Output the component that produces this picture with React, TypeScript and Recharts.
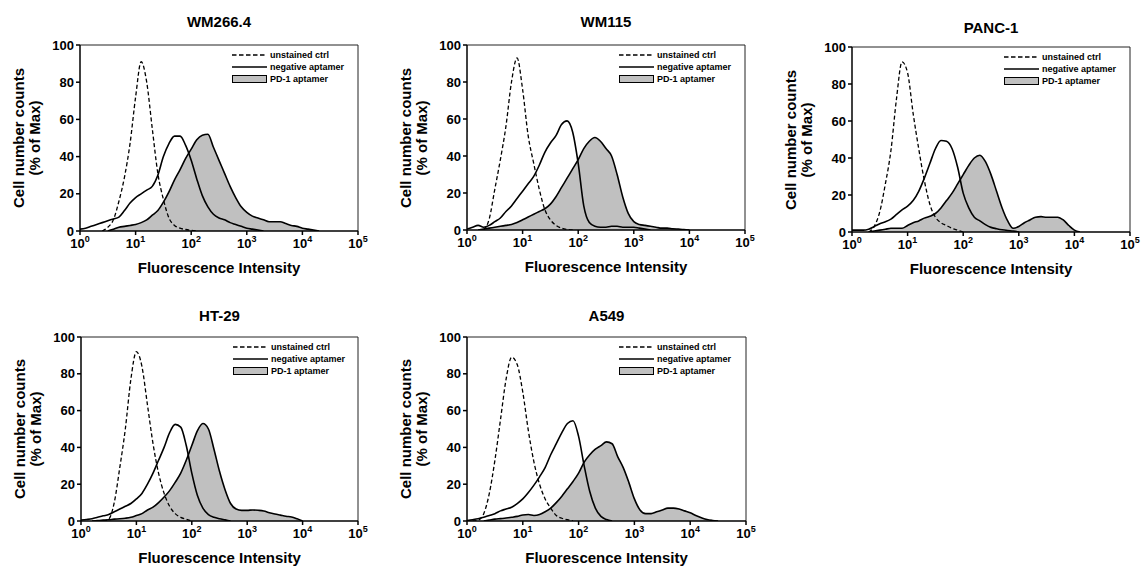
import React from "react";
import { ComposedChart, Area, Line, XAxis, YAxis, ReferenceLine } from "recharts";

// x grid: log10(fluorescence intensity), 10^0 .. 10^4.5
const logIntensity = [
  0, 0.1, 0.2, 0.3, 0.4, 0.5, 0.6, 0.7, 0.8, 0.9,
  1, 1.1, 1.2, 1.3, 1.4, 1.5, 1.6, 1.7, 1.8, 1.9,
  2, 2.1, 2.2, 2.3, 2.4, 2.5, 2.6, 2.7, 2.8, 2.9,
  3, 3.1, 3.2, 3.3, 3.4, 3.5, 3.6, 3.7, 3.8, 3.9,
  4, 4.1, 4.2, 4.3, 4.4, 4.5,
];
const xTicks = [0, 1, 2, 3, 4, 5];
const yTicks = [0, 20, 40, 60, 80, 100];
const seriesLabels = ["unstained ctrl", "negative aptamer", "PD-1 aptamer"];
const _ = null;

const wm266Unstained = [
  _, _, _, _, 0, 2, 6, 16, 29, 47,
  72, 91, 80, 55, 31, 17, 7, 3, 1.5, 0.8,
  0.3, 0, _, _, _, _, _, _, _, _,
  _, _, _, _, _, _, _, _, _, _,
  _, _, _, _, _, _,
];
const wm266Negative = [
  1, 1.5, 2.5, 3.5, 4.5, 5.5, 6.5, 7.5, 11, 15,
  18, 20, 22, 24, 30, 40, 47, 51, 51, 46,
  38, 28, 19, 13, 9, 7, 6, 4.5, 3.5, 2.5,
  1.5, 1, 0.5, 0, _, _, _, _, _, _,
  _, _, _, _, _, _,
];
const wm266Pd1 = [
  _, _, _, _, _, 0, 1, 2, 2.5, 3,
  3.5, 4.5, 6, 8.5, 11, 15.5, 21, 27.5, 33, 39,
  44, 49, 51.5, 52, 45, 38, 31, 24, 18, 13,
  10, 8, 7, 6, 5, 5, 5, 4, 3, 2.5,
  1.5, 1, 0.5, 0, _, _,
];

const wm115Unstained = [
  _, _, _, 0, 6, 22, 38, 56, 80, 93,
  76, 51, 36, 22, 11, 5.5, 2.5, 1, 0.3, 0,
  _, _, _, _, _, _, _, _, _, _,
  _, _, _, _, _, _, _, _, _, _,
  _, _, _, _, _, _,
];
const wm115Negative = [
  0.5, 1.5, 2.5, 1.5, 2.5, 4.5, 6.5, 10, 13, 17,
  21, 25, 29, 35, 42, 47, 51, 57, 59, 53,
  36, 13, 4, 2, 1.5, 1.5, 2, 2, 1.5, 1.5,
  1.5, 1, 0.5, 0, _, _, _, _, _, _,
  _, _, _, _, _, _,
];
const wm115Pd1 = [
  _, _, 0, 0.5, 1, 1.5, 2, 2.5, 3, 4,
  5.5, 7, 8.5, 10, 11.5, 14, 18, 23, 28, 33,
  38, 44, 48, 50, 48, 44, 40, 30, 18, 9,
  4.5, 3, 2.5, 2, 1.5, 1, 1, 0.7, 0.5, 0.3,
  0, _, _, _, _, _,
];

const panc1Unstained = [
  _, _, _, 0, 3, 11, 26, 44, 72, 92,
  86, 64, 45, 28, 15, 8, 5, 3.5, 2, 1,
  0, _, _, _, _, _, _, _, _, _,
  _, _, _, _, _, _, _, _, _, _,
  _, _, _, _, _, _,
];
const panc1Negative = [
  1, 1, 1, 1.5, 3, 4.5, 5.5, 7, 9.5, 12,
  14, 17, 22, 29, 37, 45, 49.5, 49, 45, 35,
  21, 13, 8, 6, 4, 2.5, 1.8, 1.2, 0.8, 0.5,
  0, _, _, _, _, _, _, _, _, _,
  _, _, _, _, _, _,
];
const panc1Pd1 = [
  _, _, _, 0, 0.5, 1, 1.5, 2, 2, 2,
  3.5, 5, 6, 7.5, 8.5, 10, 13, 17, 21, 26,
  31, 36, 40, 41.5, 38, 31, 22, 13, 6, 2,
  3, 5, 6.5, 8, 8.3, 8, 8, 8, 6.5, 3.5,
  1, 0, _, _, _, _,
];

const ht29Unstained = [
  _, _, _, _, 0, 1, 10, 29, 50, 77,
  92, 84, 63, 42, 26, 15, 8, 4, 2, 1,
  0, _, _, _, _, _, _, _, _, _,
  _, _, _, _, _, _, _, _, _, _,
  _, _, _, _, _, _,
];
const ht29Negative = [
  0.5, 0.8, 1.2, 2, 2.8, 3.5, 5, 6.5, 8, 9.5,
  12, 15, 20, 26, 33, 40, 48, 52.5, 51, 41,
  26, 14, 7, 3.5, 2, 1.2, 0.6, 0, _, _,
  _, _, _, _, _, _, _, _, _, _,
  _, _, _, _, _, _,
];
const ht29Pd1 = [
  _, _, 0, 0.3, 0.5, 0.7, 1, 1.2, 1.5, 2,
  3, 4, 6, 7.5, 10, 13, 16.5, 21, 26, 33,
  41, 49, 53, 50, 39, 27, 17, 9.5, 6.5, 5.8,
  5.8, 6, 5.8, 5.4, 4.5, 3.8, 3.2, 2.6, 2.2, 1.2,
  0, _, _, _, _, _,
];

const a549Unstained = [
  _, 0, 0.5, 4, 15, 33, 55, 77, 89, 85,
  70, 49, 32, 20, 12, 7, 3, 1.5, 0.7, 0,
  _, _, _, _, _, _, _, _, _, _,
  _, _, _, _, _, _, _, _, _, _,
  _, _, _, _, _, _,
];
const a549Negative = [
  0.3, 0.7, 1.2, 2, 3, 4, 5.5, 6.5, 7.5, 9.5,
  12, 15.5, 19.5, 24, 29, 36, 42, 48, 53, 54.5,
  46, 30, 16, 7, 2.5, 0.8, 0, _, _, _,
  _, _, _, _, _, _, _, _, _, _,
  _, _, _, _, _, _,
];
const a549Pd1 = [
  _, _, _, 0, 0.5, 1, 1.3, 1.6, 2, 2.5,
  3.3, 3.5, 3, 3.5, 5, 7, 10, 13.5, 17.5, 21.5,
  26, 32, 36, 39, 41, 43, 42, 35, 29, 21,
  12, 6, 4, 4, 5, 6, 7, 7, 6.5, 5.5,
  4.5, 3, 1.8, 0.8, 0.3, 0,
];

const FONT = '"Liberation Sans", Arial, Helvetica, sans-serif';
const GRAY = "#c0c0c0";

type Box = { left: number; top: number; right: number; bottom: number; titleY: number };

const panels: { title: string; unstained: (number | null)[]; negative: (number | null)[]; pd1: (number | null)[]; box: Box }[] = [
  { title: "WM266.4", unstained: wm266Unstained, negative: wm266Negative, pd1: wm266Pd1, box: { left: 80, top: 45, right: 358, bottom: 231, titleY: 21 } },
  { title: "WM115", unstained: wm115Unstained, negative: wm115Negative, pd1: wm115Pd1, box: { left: 467, top: 45, right: 745, bottom: 230, titleY: 21 } },
  { title: "PANC-1", unstained: panc1Unstained, negative: panc1Negative, pd1: panc1Pd1, box: { left: 852, top: 47, right: 1130, bottom: 232, titleY: 27 } },
  { title: "HT-29", unstained: ht29Unstained, negative: ht29Negative, pd1: ht29Pd1, box: { left: 81, top: 337, right: 358, bottom: 521, titleY: 315 } },
  { title: "A549", unstained: a549Unstained, negative: a549Negative, pd1: a549Pd1, box: { left: 467, top: 337, right: 746, bottom: 521, titleY: 315 } },
];

const LogTick = (props: any) => {
  const { x, y, payload } = props;
  return (
    <text x={x} y={y + 11} textAnchor="middle" fontSize={13} fontWeight="bold" fontFamily={FONT} fill="#000">
      10
      <tspan dy={-6} fontSize={9}>
        {payload.value}
      </tspan>
    </text>
  );
};

const LegendBox = ({ left, top }: { left: number; top: number }) => (
  <div style={{ position: "absolute", left, top, fontFamily: FONT, fontSize: 9, fontWeight: "bold", color: "#000" }}>
    {seriesLabels.map((label, i) => (
      <div key={label} style={{ display: "flex", alignItems: "center", height: 12, whiteSpace: "nowrap" }}>
        <svg width={35} height={8} style={{ display: "block" }}>
          {i === 0 && <line x1={0} y1={4} x2={35} y2={4} stroke="#000" strokeWidth={1.5} strokeDasharray="4.5 2.5" />}
          {i === 1 && <line x1={0} y1={4} x2={35} y2={4} stroke="#000" strokeWidth={1.5} />}
          {i === 2 && <rect x={0.5} y={0.5} width={34} height={7} fill={GRAY} stroke="#000" strokeWidth={1} />}
        </svg>
        <span style={{ marginLeft: 3 }}>{label}</span>
      </div>
    ))}
  </div>
);

const HistogramPanel = ({ panel }: { panel: (typeof panels)[number] }) => {
  const { box } = panel;
  const data = logIntensity.map((e, i) => ({
    e,
    unstained: panel.unstained[i],
    negative: panel.negative[i],
    pd1: panel.pd1[i],
  }));
  const chartLeft = box.left - 60;
  const chartTop = box.top - 10;
  const width = box.right - box.left + 72;
  const height = box.bottom - box.top + 40;
  const cx = (box.left + box.right) / 2;
  const cy = (box.top + box.bottom) / 2;

  return (
    <>
      <div
        style={{ position: "absolute", left: cx, top: box.titleY, transform: "translate(-50%, -50%)", fontFamily: FONT, fontSize: 15, fontWeight: "bold", whiteSpace: "nowrap" }}
      >
        {panel.title}
      </div>
      <div style={{ position: "absolute", left: chartLeft, top: chartTop }}>
        <ComposedChart width={width} height={height} data={data} margin={{ top: 10, right: 12, left: 0, bottom: 0 }}>
          <XAxis
            dataKey="e"
            type="number"
            domain={[0, 5]}
            ticks={xTicks}
            interval={0}
            height={30}
            tickSize={4}
            tick={<LogTick />}
            axisLine={{ stroke: "#000", strokeWidth: 1.5 }}
            tickLine={{ stroke: "#000", strokeWidth: 1.5 }}
            allowDataOverflow
          />
          <YAxis
            type="number"
            domain={[0, 100]}
            ticks={yTicks}
            interval={0}
            width={60}
            tickSize={4}
            tick={{ fontSize: 13, fontWeight: "bold", fill: "#000", fontFamily: FONT }}
            axisLine={{ stroke: "#000", strokeWidth: 1.5 }}
            tickLine={{ stroke: "#000", strokeWidth: 1.5 }}
            allowDataOverflow
          />
          <ReferenceLine y={100} stroke="#222" strokeWidth={1} />
          <ReferenceLine x={5} stroke="#222" strokeWidth={1} />
          <Area
            dataKey="pd1"
            type="monotone"
            stroke="#000"
            strokeWidth={1.6}
            fill={GRAY}
            fillOpacity={1}
            baseValue={0}
            isAnimationActive={false}
          />
          <Line dataKey="negative" type="monotone" stroke="#000" strokeWidth={1.6} dot={false} isAnimationActive={false} />
          <Line
            dataKey="unstained"
            type="monotone"
            stroke="#000"
            strokeWidth={1.3}
            strokeDasharray="4 2.5"
            dot={false}
            isAnimationActive={false}
          />
        </ComposedChart>
      </div>
      <LegendBox left={box.left + 152} top={box.top + 4} />
      <div
        style={{ position: "absolute", left: cx, top: box.bottom + 36, transform: "translate(-50%, -50%)", fontFamily: FONT, fontSize: 15, fontWeight: "bold", whiteSpace: "nowrap" }}
      >
        Fluorescence Intensity
      </div>
      <div
        style={{
          position: "absolute",
          left: box.left - 53,
          top: cy,
          transform: "translate(-50%, -50%) rotate(-90deg)",
          fontFamily: FONT,
          fontSize: 15,
          fontWeight: "bold",
          lineHeight: "16px",
          textAlign: "center",
          whiteSpace: "nowrap",
        }}
      >
        <div>Cell number counts</div>
        <div>(% of Max)</div>
      </div>
    </>
  );
};

export default function App() {
  return (
    <div style={{ position: "absolute", left: 0, top: 0, width: 1142, height: 567, overflow: "hidden", background: "#fff" }}>
      {panels.map((p) => (
        <HistogramPanel key={p.title} panel={p} />
      ))}
    </div>
  );
}
